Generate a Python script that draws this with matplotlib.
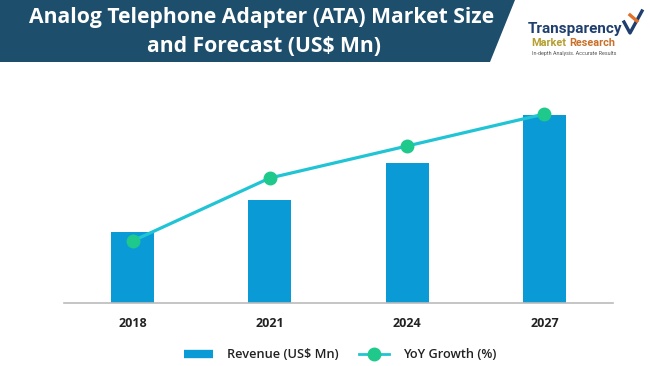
import matplotlib
matplotlib.use("Agg")
import matplotlib.pyplot as plt
from matplotlib.patches import Polygon
from matplotlib.lines import Line2D
import numpy as np

years = ["2018", "2021", "2024", "2027"]
revenue = [71, 103, 140, 188]
yoy_growth = [62, 125, 157, 189]

BAR = "#0A9AD6"
LINE = "#21C4D4"
MARK = "#1FC98C"
NAVY = "#1D4E6B"

plt.rcParams['font.family'] = ['Open Sans', 'DejaVu Sans']

fig = plt.figure(figsize=(6.5, 3.66), dpi=100)
W, H = 650, 366

# Title banner
banner = Polygon([(0, 1), (515 / W, 1), (490 / W, 1 - 62 / H), (0, 1 - 62 / H)],
                 closed=True, transform=fig.transFigure, facecolor=NAVY,
                 edgecolor="none", zorder=0)
fig.patches.append(banner)
fig.text(262 / W, 1 - 18 / H, "Analog Telephone Adapter (ATA) Market Size",
         color="white", fontsize=15.2, fontweight="bold", ha="center", va="center")
fig.text(264 / W, 1 - 46 / H, "and Forecast (US$ Mn)",
         color="white", fontsize=15.2, fontweight="bold", ha="center", va="center")

# Logo
fig.text(528 / W, 1 - 29 / H, "Transparency", color="#1F3F6E", fontsize=11.0,
         fontweight="bold", ha="left", va="center", family=["Roboto", "DejaVu Sans"])
fig.text(531 / W, 1 - 43 / H, "Market", color="#B59E2E", fontsize=7.8,
         fontweight="bold", ha="left", va="center", family=["Roboto", "DejaVu Sans"])
fig.text(569 / W, 1 - 43 / H, "Research", color="#C8702A", fontsize=7.8,
         fontweight="bold", ha="left", va="center", family=["Roboto", "DejaVu Sans"])
fig.text(532 / W, 1 - 53 / H, "In-depth Analysis. Accurate Results", color="#555555",
         fontsize=3.9, ha="left", va="center", family=["Roboto", "DejaVu Sans"])
fig.lines.append(Line2D([624 / W, 630 / W, 642 / W], [1 - 22 / H, 1 - 33 / H, 1 - 11 / H],
                        transform=fig.transFigure, color="#1F3F6E", lw=2.4))
fig.lines.append(Line2D([630 / W, 637 / W], [1 - 15 / H, 1 - 21 / H],
                        transform=fig.transFigure, color="#E0702A", lw=2.4))

# Chart axes
ax = fig.add_axes([64 / W, 1 - 303 / H, 549 / W, 200 / H])
x = np.arange(len(years))
ax.bar(x, revenue, width=0.315, color=BAR, zorder=2)
ax.plot(x, yoy_growth, color=LINE, lw=2.3, marker="o", markersize=9,
        markerfacecolor=MARK, markeredgecolor=MARK, zorder=3)
ax.set_xlim(-0.5, 3.5)
ax.set_ylim(0, 200)
ax.set_xticks(x)
ax.set_xticklabels(years, fontsize=9, fontweight="bold", color="#222222")
ax.tick_params(axis="x", length=0, pad=10)
ax.set_yticks([])
for s in ["top", "left", "right"]:
    ax.spines[s].set_visible(False)
ax.spines["bottom"].set_color("#BBBBBB")
ax.spines["bottom"].set_linewidth(1.2)
ax.patch.set_alpha(0)

# Legend
handles = [
    Line2D([], [], color=BAR, lw=6, solid_capstyle="butt"),
    Line2D([], [], color=LINE, lw=2, marker="o", markersize=9,
           markerfacecolor=MARK, markeredgecolor=MARK),
]
fig.legend(handles, ["Revenue (US$ Mn)", "YoY Growth (%)"], loc="center",
           bbox_to_anchor=(340 / W, 1 - 355 / H), ncol=2, frameon=False,
           prop={"size": 9.2, "weight": "semibold"},
           handlelength=2.3, columnspacing=1.6, handletextpad=1.1,
           labelcolor="#222222")

fig.savefig("out.png", dpi=100)
